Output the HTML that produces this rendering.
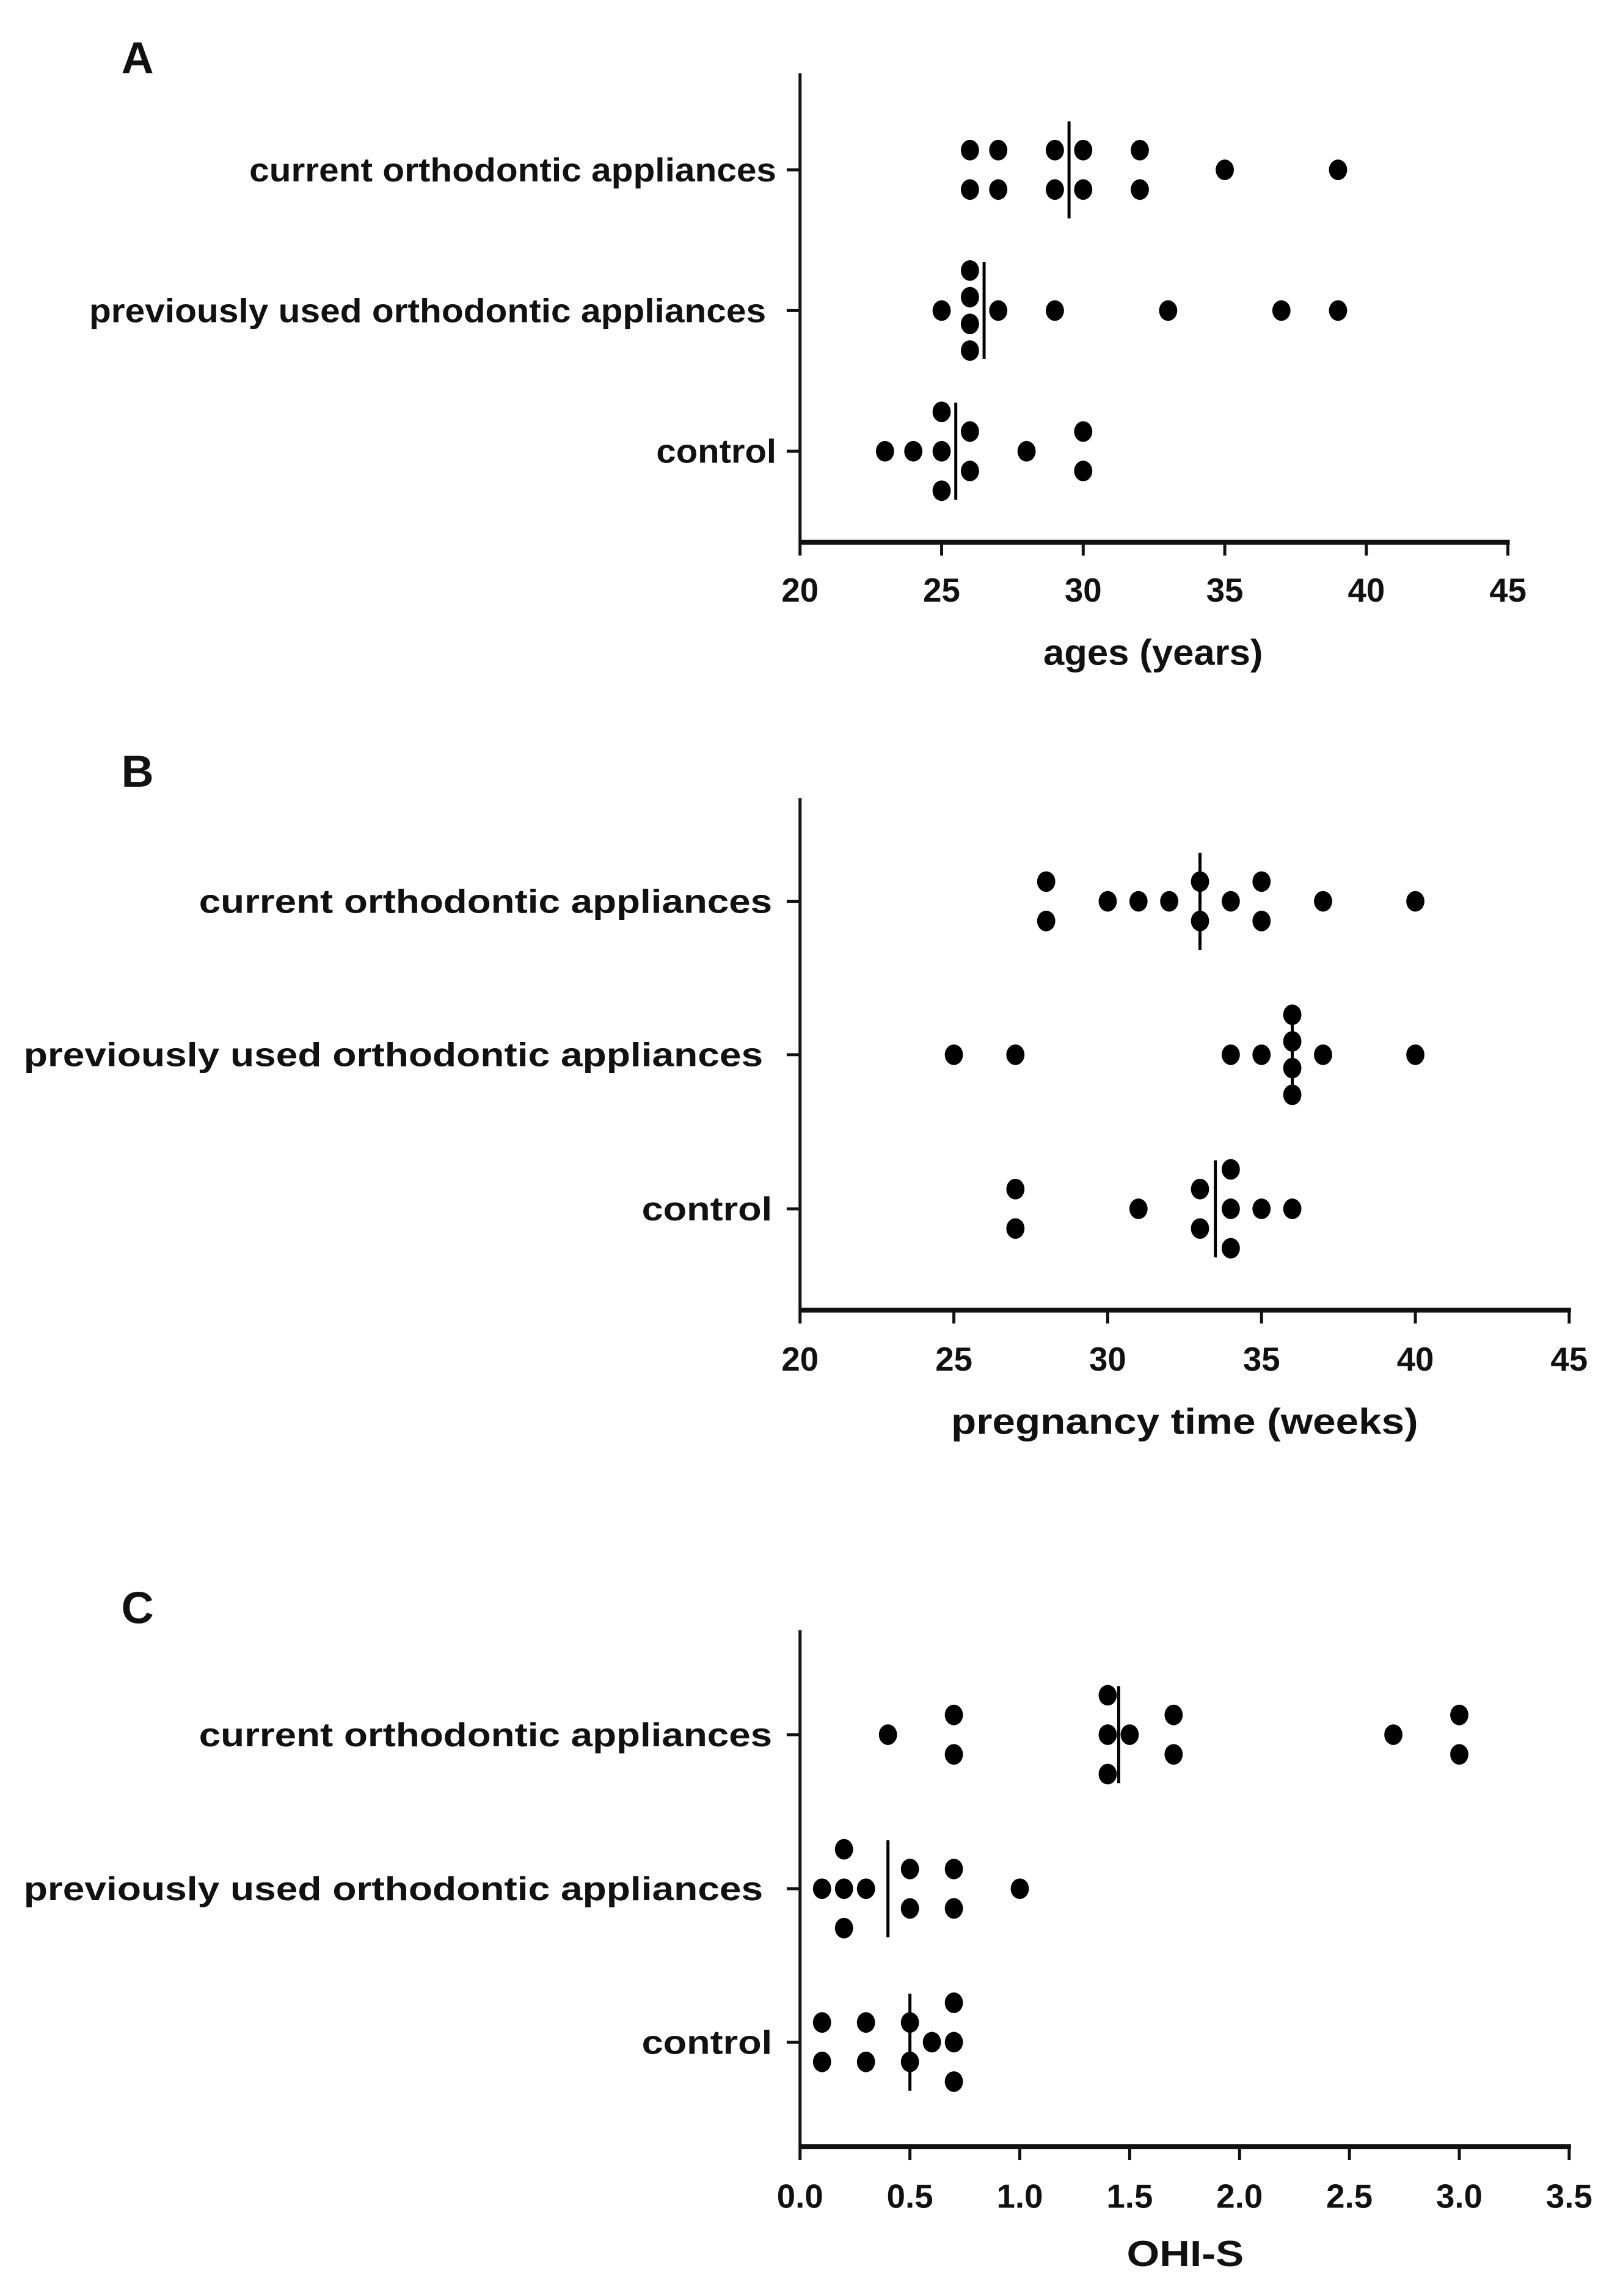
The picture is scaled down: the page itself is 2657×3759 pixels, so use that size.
<!DOCTYPE html>
<html><head><meta charset="utf-8"><style>html,body{margin:0;padding:0;background:#fff}svg{display:block}text{font-family:"Liberation Sans",Arial,sans-serif;font-weight:bold;fill:#111}</style></head>
<body>
<svg id="fig" width="2657" height="3759" viewBox="0 0 2657 3759" xmlns="http://www.w3.org/2000/svg"><g id="root" transform="scale(0.993)"></g></svg>
<script>
const categories = ["current orthodontic appliances","previously used orthodontic appliances","control"];
const agesCurrent = [26,26,27,27,29,29,30,30,32,32,35,39];
const agesPrevious = [25,26,26,26,26,27,29,33,37,39];
const agesControl = [23,24,25,25,25,26,26,28,30,30];
const agesMedians = [29.5,26.5,25.5];
const agesTicks = [20,25,30,35,40,45];
const pregCurrent = [28,28,30,31,32,33,33,34,35,35,37,40];
const pregPrevious = [25,27,34,35,36,36,36,36,37,40];
const pregControl = [27,27,31,33,33,34,34,34,35,36];
const pregMedians = [33,36,33.5];
const pregTicks = [20,25,30,35,40,45];
const ohiCurrent = [0.4,0.7,0.7,1.4,1.4,1.4,1.5,1.7,1.7,2.7,3.0,3.0];
const ohiPrevious = [0.1,0.2,0.2,0.2,0.3,0.5,0.5,0.7,0.7,1.0];
const ohiControl = [0.1,0.1,0.3,0.3,0.5,0.5,0.6,0.7,0.7,0.7];
const ohiMedians = [1.45,0.4,0.5];
const ohiTicks = ["0.0","0.5","1.0","1.5","2.0","2.5","3.0","3.5"];

const NS="http://www.w3.org/2000/svg";
const svg=document.getElementById('root');
function mk(tag,attrs,parent){const e=document.createElementNS(NS,tag);for(const k in attrs)e.setAttribute(k,attrs[k]);(parent||svg).appendChild(e);return e;}

const panels=[
 {letter:"A",key:"a",series:[agesCurrent,agesPrevious,agesControl],med:agesMedians,ticks:agesTicks,min:20,max:45,x0:1319,x1:2486,top:121,bottom:894,cats:[280,512,744],tickBase:992,title:"ages (years)",titleX:1901,titleW:362,titleBase:1096,letterBase:121,
  labW:[869,1116,198]},
 {letter:"B",key:"b",series:[pregCurrent,pregPrevious,pregControl],med:pregMedians,ticks:pregTicks,min:20,max:45,x0:1319,x1:2587,top:1316,bottom:2160,cats:[1486,1739,1993],tickBase:2260,title:"pregnancy time (weeks)",titleX:1953,titleW:770,titleBase:2364,letterBase:1297,
  labW:[945,1219,215]},
 {letter:"C",key:"c",series:[ohiCurrent,ohiPrevious,ohiControl],med:ohiMedians,ticks:ohiTicks,min:0,max:3.5,x0:1319,x1:2587,top:2688,bottom:3539,cats:[2860,3114,3367],tickBase:3640,title:"OHI-S",titleX:1954,titleW:193,titleBase:3736,letterBase:2676,
  labW:[945,1219,215]}
];
const labRight=[[1280,1263,1280],[1273,1258,1273],[1273,1258,1273]];
const R=15;
panels.forEach((p,pi)=>{
  const g=mk('g',{});
  
  
  const sx=v=>p.x0+(parseFloat(v)-p.min)/(p.max-p.min)*(p.x1-p.x0);
  const L=mk('text',{x:200,y:p.letterBase,'font-size':74},g);L.textContent=p.letter;
  
  
  const ya=mk('line',{x1:p.x0,y1:p.top,x2:p.x0,y2:p.bottom,stroke:'#111','stroke-width':5},g);
  
  
  const xa=mk('line',{x1:p.x0-2,y1:p.bottom,x2:p.x1+3,y2:p.bottom,stroke:'#111','stroke-width':8},g);
  
  
  p.ticks.forEach(t=>{
    const x=sx(t);
    const tk=mk('line',{x1:x,y1:p.bottom,x2:x,y2:p.bottom+22,stroke:'#111','stroke-width':5},g);
    
    
    const tl=mk('text',{x:x,y:p.tickBase,'font-size':55,'text-anchor':'middle'},g);tl.textContent=t;
    
    
  });
  const ti=mk('text',{x:p.titleX,y:p.titleBase,'font-size':60,'text-anchor':'middle',textLength:p.titleW,lengthAdjust:'spacingAndGlyphs'},g);ti.textContent=p.title;
  
  
  categories.forEach((c,ci)=>{
    const cy=p.cats[ci];
    const ct=mk('line',{x1:p.x0-22,y1:cy,x2:p.x0,y2:cy,stroke:'#111','stroke-width':5},g);
    
    
    const lb=mk('text',{x:labRight[pi][ci],y:cy+19,'font-size':55,'text-anchor':'end',textLength:p.labW[ci],lengthAdjust:'spacingAndGlyphs'},g);lb.textContent=c;
    
    
    const counts={};
    p.series[ci].forEach(v=>{counts[v]=(counts[v]||0)+1;});
    Object.keys(counts).forEach(v=>{
      const n=counts[v];const sp=n>=4?44:65;
      for(let i=0;i<n;i++){
        const d=mk('ellipse',{cx:sx(v),cy:cy+(i-(n-1)/2)*sp,rx:R,ry:R+2,fill:'#000'},g);
        
        
      }
    });
    const mx=sx(p.med[ci]);
    const ml=mk('line',{x1:mx,y1:cy-80,x2:mx,y2:cy+80,stroke:'#000','stroke-width':5},g);
    
    
  });
});
</script>
</body></html>
